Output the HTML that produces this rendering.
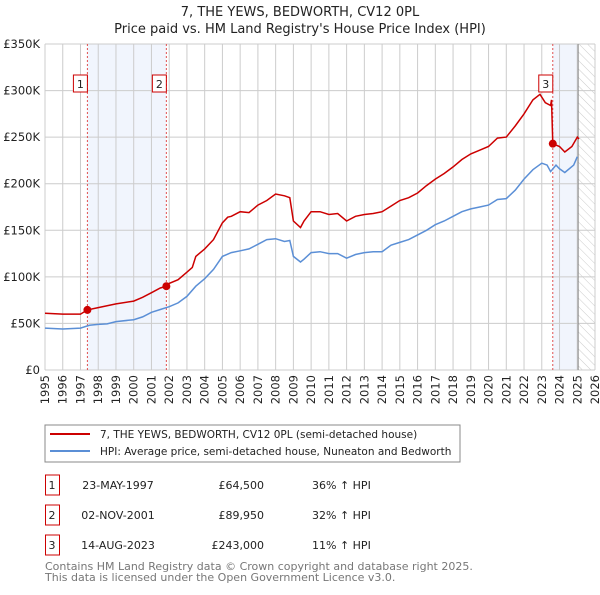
<!DOCTYPE html>
<html><head><meta charset="utf-8"><style>
body{margin:0;background:#fff;font-family:"Liberation Sans","DejaVu Sans",sans-serif}
svg text{font-family:"DejaVu Sans","Liberation Sans",sans-serif}
</style></head><body>
<svg id="c" width="600" height="590" xmlns="http://www.w3.org/2000/svg">
<defs><pattern id="hatch" width="6" height="6" patternUnits="userSpaceOnUse" patternTransform="rotate(-45)"><line x1="0" y1="0" x2="0" y2="6" stroke="#ccc" stroke-width="1"/></pattern></defs>
<text x="300" y="16" text-anchor="middle" font-size="13" fill="#222">7, THE YEWS, BEDWORTH, CV12 0PL</text>
<text x="300" y="33" text-anchor="middle" font-size="13" fill="#222">Price paid vs. HM Land Registry's House Price Index (HPI)</text>
<g id="plot"></g>
<rect x="45" y="425" width="415" height="37" fill="#fff" stroke="#888"/>
<line x1="50" y1="434" x2="90" y2="434" stroke="#cc0000" stroke-width="2"/>
<text x="100" y="438" font-size="10.5" fill="#222">7, THE YEWS, BEDWORTH, CV12 0PL (semi-detached house)</text>
<line x1="50" y1="451" x2="90" y2="451" stroke="#5b8fd6" stroke-width="2"/>
<text x="100" y="455" font-size="10.5" fill="#222">HPI: Average price, semi-detached house, Nuneaton and Bedworth</text>
<g id="table" font-size="11" fill="#222"></g>
<text x="45" y="570" font-size="11" fill="#777">Contains HM Land Registry data © Crown copyright and database right 2025.</text>
<text x="45" y="581" font-size="11" fill="#777">This data is licensed under the Open Government Licence v3.0.</text>
</svg>
<script>
const hpiYears=[1995,1996,1997,1997.5,1998,1998.5,1999,2000,2000.5,2001,2001.5,2002,2002.5,2003,2003.5,2004,2004.5,2005,2005.5,2006,2006.5,2007,2007.5,2008,2008.5,2008.8,2009,2009.4,2009.6,2010,2010.5,2011,2011.5,2012,2012.5,2013,2013.5,2014,2014.5,2015,2015.5,2016,2016.5,2017,2017.5,2018,2018.5,2019,2019.5,2020,2020.5,2021,2021.5,2022,2022.5,2023,2023.3,2023.5,2023.8,2024,2024.3,2024.8,2025];
const hpiValues=[45,44,45,48,49,49.5,52,54,57,62,65,68,72,79,90,98,108,122,126,128,130,135,140,141,138,139,122,116,119,126,127,125,125,120,124,126,127,127,134,137,140,145,150,156,160,165,170,173,175,177,183,184,193,205,215,222,220,213,220,216,212,220,229];
const propYears=[1995,1996,1997,1997.39,1998,1999,2000,2000.5,2001,2001.5,2001.84,2002,2002.5,2003,2003.3,2003.5,2004,2004.5,2005,2005.3,2005.5,2006,2006.5,2007,2007.5,2008,2008.5,2008.8,2009,2009.4,2009.6,2010,2010.5,2011,2011.5,2012,2012.5,2013,2013.5,2014,2014.5,2015,2015.5,2016,2016.5,2017,2017.5,2018,2018.5,2019,2019.5,2020,2020.5,2021,2021.5,2022,2022.5,2022.9,2023.2,2023.5,2023.55,2023.62,2024,2024.3,2024.7,2025,2025.1];
const propValues=[61,60,60,64.5,67,71,74,78,83,88,90,93,97,105,110,122,130,140,158,164,165,170,169,177,182,189,187,185,160,153,160,170,170,167,168,160,165,167,168,170,176,182,185,190,198,205,211,218,226,232,236,240,249,250,262,275,290,296,287,284,290,243,240,234,240,250,248];
const saleYears=[1997.39,2001.84,2023.62];
const saleValues=[64.5,89.95,243];
const saleLabels=["1","2","3"];
const saleDates=["23-MAY-1997","02-NOV-2001","14-AUG-2023"];
const salePrices=["£64,500","£89,950","£243,000"];
const saleHpi=["36% ↑ HPI","32% ↑ HPI","11% ↑ HPI"];
const yTicks=[0,50,100,150,200,250,300,350];
const yTickLabels=["£0","£50K","£100K","£150K","£200K","£250K","£300K","£350K"];
const xTicks=[];for(let y=1995;y<=2026;y++)xTicks.push(y);

const X0=45,X1=595,Y0=370,Y1=44;
const xs=v=>X0+(v-1995)*(X1-X0)/31;
const ys=v=>Y0-v*(Y0-Y1)/350;
const NS="http://www.w3.org/2000/svg";
function mk(p,tag,at){const e=document.createElementNS(NS,tag);for(const k in at)e.setAttribute(k,at[k]);p.appendChild(e);return e;}
const g=document.getElementById('plot');
let e;
e=mk(g,'rect',{x:xs(saleYears[0]),y:Y1,width:xs(saleYears[1])-xs(saleYears[0]),height:Y0-Y1,fill:'#eef3fc',opacity:0.8});


e=mk(g,'rect',{x:xs(saleYears[2]),y:Y1,width:xs(2025.05)-xs(saleYears[2]),height:Y0-Y1,fill:'#eef3fc',opacity:0.8});


e=mk(g,'rect',{x:xs(2025.05),y:Y1,width:X1-xs(2025.05),height:Y0-Y1,fill:'url(#hatch)'});


xTicks.forEach(t=>{
 e=mk(g,'line',{x1:xs(t),x2:xs(t),y1:Y1,y2:Y0,stroke:'#ccc','stroke-width':1});
 
 
 const tx=mk(g,'text',{x:0,y:0,'font-size':11.5,fill:'#222','text-anchor':'end',transform:`translate(${xs(t)+4},375) rotate(-90)`});
 tx.textContent=t;
 
 
});
yTicks.forEach((t,i)=>{
 e=mk(g,'line',{x1:X0,x2:X1,y1:ys(t),y2:ys(t),stroke:'#ccc','stroke-width':1});
 
 
 const tx=mk(g,'text',{x:40,y:ys(t)+4,'font-size':11.5,fill:'#222','text-anchor':'end'});
 tx.textContent=yTickLabels[i];
 
 
});
e=mk(g,'line',{x1:xs(2025.05),x2:xs(2025.05),y1:Y1,y2:Y0,stroke:'#888','stroke-width':1});


saleYears.forEach((s,i)=>{
 e=mk(g,'line',{x1:xs(s),x2:xs(s),y1:Y1,y2:Y0,stroke:'#e05050','stroke-width':1,'stroke-dasharray':'2,2'});
 
 
 e=mk(g,'rect',{x:xs(s)-14,y:75,width:14,height:17,fill:'#fff',stroke:'#cc0000'});
 
 
 const tx=mk(g,'text',{x:xs(s)-7,y:88,'font-size':11,fill:'#222','text-anchor':'middle'});
 tx.textContent=saleLabels[i];
 
 
});
e=mk(g,'path',{d:hpiYears.map((y,i)=>(i?'L':'M')+xs(y).toFixed(1)+','+ys(hpiValues[i]).toFixed(1)).join(''),fill:'none',stroke:'#5b8fd6','stroke-width':1.5});


e=mk(g,'path',{d:propYears.map((y,i)=>(i?'L':'M')+xs(y).toFixed(1)+','+ys(propValues[i]).toFixed(1)).join(''),fill:'none',stroke:'#cc0000','stroke-width':1.5});


saleYears.forEach((s,i)=>{
 e=mk(g,'circle',{cx:xs(s),cy:ys(saleValues[i]),r:4,fill:'#cc0000'});
 
 
});
const tb=document.getElementById('table');
saleLabels.forEach((l,i)=>{
 const y=487+i*30;
 e=mk(tb,'rect',{x:45.5,y:y-12,width:14,height:20,fill:'#fff',stroke:'#cc0000'});
 
 
 const cells=[[52,l,'middle'],[118,saleDates[i],'middle'],[264,salePrices[i],'end'],[312,saleHpi[i],'start']];
 cells.forEach(c=>{
  const t=mk(tb,'text',{x:c[0],y:y+2,'text-anchor':c[2]});
  t.textContent=c[1];
  
  
 });
});
</script>
</body></html>
